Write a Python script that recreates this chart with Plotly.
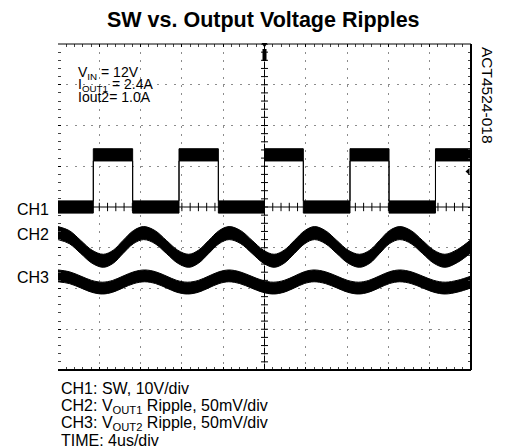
import numpy as np
import plotly.graph_objects as go

# ---------------- data (read from the scope capture) ----------------
# CH1: SW node, volts, 10 V/div
ch1_time_us = [0, 3.42, 3.42, 7.23, 7.23, 11.72, 11.72, 15.53, 15.53, 20.0, 20.0,
               23.76, 23.76, 28.28, 28.28, 32.06, 32.06, 36.56, 36.56, 40]
ch1_volts = [0, 0, 12.8, 12.8, 0, 0, 12.8, 12.8, 0, 0, 12.8,
             12.8, 0, 0, 12.8, 12.8, 0, 0, 12.8, 12.8]

# CH2: VOUT1 ripple, mV about its reference, 50 mV/div
ch2_time_us = [0, 1.1, 2.2, 3.3, 4.39, 5.35, 6.3, 7.3, 8.3, 9.4, 10.5, 11.6, 12.66,
               13.6, 14.6, 15.6, 16.57, 17.7, 18.8, 19.9, 20.93, 21.9, 22.9, 23.9,
               24.84, 25.9, 27.0, 28.1, 29.2, 30.2, 31.15, 32.1, 33.11, 34.2, 35.3,
               36.4, 37.47, 38.7, 40]
ch2_mv = [17, 12, 0, -12, -17, -12, 0, 12, 17, 12, 0, -12, -17,
          -12, 0, 12, 17, 12, 0, -12, -17, -12, 0, 12,
          17, 12, 0, -12, -17, -12, 0, 12, 17, 12, 0,
          -12, -17, -11, 1]

# CH3: VOUT2 ripple, mV about its reference, 50 mV/div
ch3_time_us = [0, 1.1, 2.2, 3.25, 4.3, 5.3, 6.3, 7.35, 8.4, 9.45, 10.5, 11.5, 12.55,
               13.6, 14.6, 15.6, 16.55, 17.6, 18.7, 19.8, 20.85, 21.9, 22.9, 23.85,
               24.8, 25.9, 27.0, 28.05, 29.1, 30.1, 31.1, 32.1, 33.1, 34.2, 35.3,
               36.4, 37.5, 38.75, 40]
ch3_mv = [7.5, 5.3, 0, -5.3, -7.5, -5.3, 0, 5.3, 7.5, 5.3, 0, -5.3, -7.5,
          -5.3, 0, 5.3, 7.5, 5.3, 0, -5.3, -7.5, -5.3, 0, 5.3,
          7.5, 5.3, 0, -5.3, -7.5, -5.3, 0, 5.3, 7.5, 5.3, 0,
          -5.3, -7.5, -5.0, 0]

ch_labels = ["CH1", "CH2", "CH3"]
conditions = ["V<sub>IN</sub> = 12V", "I<sub>OUT1</sub> = 2.4A", "Iout2= 1.0A"]
footer = ["CH1: SW, 10V/div",
          "CH2: V<sub>OUT1</sub> Ripple, 50mV/div",
          "CH3: V<sub>OUT2</sub> Ripple, 50mV/div",
          "TIME: 4us/div"]
title_text = "SW vs. Output Voltage Ripples"
figure_id = "ACT4524-018"

# channel settings
CH1_V_PER_DIV = 10.0
RIPPLE_MV_PER_DIV = 50.0
CH1_REF_DIV = 0.0
CH2_REF_DIV = -0.98
CH3_REF_DIV = -1.84

# ---------------- figure ----------------
PAGE = 8                     # default page margin of the html body
W, H = 507 - PAGE, 446 - PAGE
L, T = 58 - PAGE, 44 - PAGE
PW, PH = 413, 326
R, B = W - L - PW, H - T - PH
FONT = "Liberation Sans, Arial, Helvetica, sans-serif"
X0, Y1 = 58, 370             # plot-area left / bottom in window pixels


def px(xp):
    return (xp - X0) / PW


def py(yp):
    return (Y1 - yp) / PH


fig = go.Figure()


def add_band(t, ydiv, half, shape):
    lo = [v - half for v in ydiv]
    hi = [v + half for v in ydiv]
    fig.add_trace(go.Scatter(x=t, y=lo, mode="lines",
                             line=dict(color="black", width=1, shape=shape, smoothing=1),
                             hoverinfo="skip", showlegend=False))
    fig.add_trace(go.Scatter(x=t, y=hi, mode="lines", fill="tonexty",
                             fillcolor="black",
                             line=dict(color="black", width=1, shape=shape, smoothing=1),
                             hoverinfo="skip", showlegend=False))


ch1_div = [CH1_REF_DIV + v / CH1_V_PER_DIV for v in ch1_volts]
ch2_div = [CH2_REF_DIV + v / RIPPLE_MV_PER_DIV for v in ch2_mv]
ch3_div = [CH3_REF_DIV + v / RIPPLE_MV_PER_DIV for v in ch3_mv]

add_band(ch1_time_us, ch1_div, 0.15, "linear")
add_band(ch2_time_us, ch2_div, 0.16, "spline")
add_band(ch3_time_us, ch3_div, 0.145, "spline")

# centre graticule ticks
xt = np.arange(0, 40.001, 0.8)
fig.add_trace(go.Scatter(x=xt, y=np.zeros_like(xt), mode="markers",
                         marker=dict(symbol="line-ns", size=6,
                                     line=dict(color="black", width=1)),
                         hoverinfo="skip", showlegend=False))
yt = np.arange(-4, 4.001, 0.2)
fig.add_trace(go.Scatter(x=np.full_like(yt, 20.0), y=yt, mode="markers",
                         marker=dict(symbol="line-ew", size=5,
                                     line=dict(color="black", width=1)),
                         hoverinfo="skip", showlegend=False))

shapes = [
    dict(type="line", xref="x", yref="y", x0=20, x1=20, y0=-4, y1=4,
         line=dict(color="black", width=1), layer="below"),
    dict(type="line", xref="x", yref="y", x0=0, x1=40, y0=0, y1=0,
         line=dict(color="black", width=1), layer="below"),
    dict(type="line", xref="paper", yref="paper", x0=0, x1=1, y0=1, y1=1,
         line=dict(color="black", width=1)),
    dict(type="line", xref="paper", yref="paper", x0=1, x1=1, y0=0, y1=1,
         line=dict(color="black", width=2)),
    dict(type="line", xref="paper", yref="paper", x0=0, x1=1, y0=0, y1=0,
         line=dict(color="black", width=2)),
    # trigger position marker (top)
    dict(type="path", xref="paper", yref="paper",
         path=f"M {px(261.5)} {py(43)} L {px(267.5)} {py(43)} L {px(264.5)} {py(47.5)} Z",
         fillcolor="black", line=dict(width=0)),
    dict(type="rect", xref="paper", yref="paper",
         x0=px(262.5), x1=px(266.5), y0=py(61), y1=py(49),
         fillcolor="black", line=dict(width=0)),
    # trigger level marker (right)
    dict(type="path", xref="paper", yref="paper",
         path=f"M {px(465.5)} {py(171.5)} L {px(469.5)} {py(168)} L {px(469.5)} {py(175)} Z",
         fillcolor="black", line=dict(width=0)),
]

annotations = []
annotations.append(dict(text=f"<b>{title_text}</b>", xref="paper", yref="paper",
                        x=px(263), y=py(20), xanchor="center", yanchor="middle",
                        showarrow=False, font=dict(family=FONT, size=21.5, color="black")))
annotations.append(dict(text=figure_id, xref="paper", yref="paper",
                        x=px(488), y=py(95), xanchor="center", yanchor="middle",
                        textangle=90, showarrow=False,
                        font=dict(family=FONT, size=15.5, color="black")))
for txt, yp in zip(conditions, [73, 85, 97]):
    annotations.append(dict(text=txt, xref="paper", yref="paper",
                            x=px(76), y=py(yp), xanchor="left", yanchor="middle",
                            showarrow=False, font=dict(family=FONT, size=14, color="black")))
for txt, yp in zip(ch_labels, [209, 234, 277]):
    annotations.append(dict(text=txt, xref="paper", yref="paper",
                            x=px(15), y=py(yp), xanchor="left", yanchor="middle",
                            showarrow=False, font=dict(family=FONT, size=16, color="black")))
for txt, yp in zip(footer, [389, 406, 423, 440]):
    annotations.append(dict(text=txt, xref="paper", yref="paper",
                            x=px(59), y=py(yp), xanchor="left", yanchor="middle",
                            showarrow=False, font=dict(family=FONT, size=16, color="black")))

fig.update_layout(
    width=W, height=H,
    margin=dict(l=L, r=R, t=T, b=B, pad=0),
    paper_bgcolor="white", plot_bgcolor="white",
    shapes=shapes, annotations=annotations,
    xaxis=dict(range=[0, 40], tick0=0, dtick=4, showgrid=True,
               gridcolor="#8c8c8c", gridwidth=1, griddash="2px,6.15px",
               ticks="inside", ticklen=3, tickcolor="black", tickwidth=1,
               minor=dict(dtick=0.8, ticks="inside", ticklen=3, tickcolor="#444",
                          showgrid=False),
               mirror="ticks", showline=False, zeroline=False,
               showticklabels=False, fixedrange=True),
    yaxis=dict(range=[-4, 4], tick0=0, dtick=1, showgrid=True,
               gridcolor="#8c8c8c", gridwidth=1, griddash="2px,6.26px",
               ticks="inside", ticklen=3, tickcolor="black", tickwidth=1,
               minor=dict(dtick=0.2, ticks="inside", ticklen=3, tickcolor="#444",
                          showgrid=False),
               mirror="ticks", showline=False, zeroline=False,
               showticklabels=False, fixedrange=True),
)

fig.write_html("out.html")
